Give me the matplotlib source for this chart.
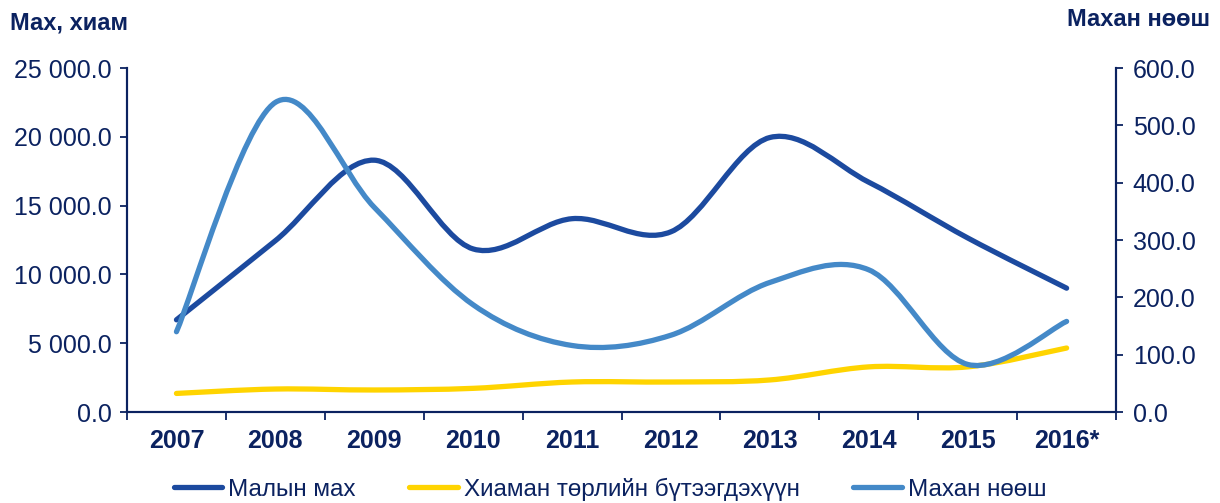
import numpy as np
import matplotlib
matplotlib.use("Agg")
import matplotlib.pyplot as plt
from matplotlib.path import Path
from matplotlib.patches import PathPatch
from matplotlib.lines import Line2D
from matplotlib.ticker import FuncFormatter

# Données
years = ["2007", "2008", "2009", "2010", "2011", "2012", "2013", "2014", "2015", "2016*"]
malyn_makh = [6700, 12450, 18300, 11850, 14050, 13100, 19950, 16700, 12650, 9000]
khiam = [1350, 1670, 1600, 1720, 2180, 2180, 2330, 3280, 3280, 4650]
makhan_noosh = [140, 540, 357, 187, 116, 134, 226, 248, 83, 158]

NAVY = "#0b2260"
C_DARK = "#1c4a9f"
C_YELLOW = "#ffd400"
C_LIGHT = "#4489c8"

plt.rcParams['font.family'] = ['Liberation Sans', 'DejaVu Sans']


def smooth_path(xs, ys):
    """Courbe lissée type Excel (Bezier passant par les points)"""
    pts = np.column_stack([xs, ys]).astype(float)
    n = len(pts)
    verts = [pts[0]]
    codes = [Path.MOVETO]
    for i in range(n - 1):
        p0 = pts[i - 1] if i > 0 else pts[i]
        p1 = pts[i]
        p2 = pts[i + 1]
        p3 = pts[i + 2] if i + 2 < n else pts[i + 1]
        c1 = p1 + (p2 - p0) / 6.0
        c2 = p2 - (p3 - p1) / 6.0
        verts += [c1, c2, p2]
        codes += [Path.CURVE4] * 3
    return Path(verts, codes)


fig = plt.figure(figsize=(12.2, 5.03), dpi=100)
ax = fig.add_axes([0.1041, 0.1809, 0.8107, 0.6839])
ax2 = ax.twinx()

x = np.arange(len(years))
lw = 3.8
for axis, vals, col, z in [(ax, malyn_makh, C_DARK, 3), (ax, khiam, C_YELLOW, 2)]:
    axis.add_patch(PathPatch(smooth_path(x, vals), facecolor='none', edgecolor=col,
                             lw=lw, capstyle='round', joinstyle='round', zorder=z))
ax2.add_patch(PathPatch(smooth_path(x, makhan_noosh), facecolor='none', edgecolor=C_LIGHT,
                        lw=lw, capstyle='round', joinstyle='round', zorder=3))

ax.set_xlim(-0.5, len(years) - 0.5)
ax.set_ylim(0, 25000)
ax2.set_ylim(0, 600)
ax.set_yticks(np.arange(0, 25001, 5000))
ax2.set_yticks(np.arange(0, 601, 100))
ax.yaxis.set_major_formatter(FuncFormatter(lambda v, p: f"{v:,.1f}".replace(",", " ")))
ax2.yaxis.set_major_formatter(FuncFormatter(lambda v, p: f"{v:.1f}"))

ax.set_xticks(np.arange(-0.5, len(years), 1.0))
ax.set_xticklabels([])
ax.set_xticks(x, minor=True)
ax.set_xticklabels(years, minor=True, fontsize=18, fontweight='bold', color=NAVY)
ax.tick_params(axis='x', which='minor', length=0, pad=12)
ax.tick_params(axis='x', which='major', length=5.5, width=1.3, color=NAVY, direction='out')

ax.tick_params(axis='y', length=5, width=1.3, color=NAVY, labelcolor=NAVY, labelsize=18, pad=6)
ax2.tick_params(axis='y', length=5, width=1.3, color=NAVY, labelcolor=NAVY, labelsize=18, pad=7)

for a in (ax, ax2):
    a.spines['top'].set_visible(False)
    for s in ('left', 'right', 'bottom'):
        a.spines[s].set_color(NAVY)
        a.spines[s].set_linewidth(1.5)

fig.text(10 / 1220, 1 - 23 / 503, "Мах, хиам", fontsize=17, fontweight='bold',
         color=NAVY, ha='left', va='center')
fig.text(1210 / 1220, 1 - 20 / 503, "Махан нөөш", fontsize=17, fontweight='bold',
         color=NAVY, ha='right', va='center')

handles = [Line2D([], [], color=C_DARK, lw=lw, solid_capstyle='round'),
           Line2D([], [], color=C_YELLOW, lw=lw, solid_capstyle='round'),
           Line2D([], [], color=C_LIGHT, lw=lw, solid_capstyle='round')]
labels = ["Малын мах", "Хиаман төрлийн бүтээгдэхүүн", "Махан нөөш"]
fig.legend(handles, labels, loc='center', bbox_to_anchor=(0.5, 1 - 489 / 503), ncol=3,
           frameon=False, fontsize=17.5, handlelength=2.0, handletextpad=0.25,
           columnspacing=2.2, labelcolor=NAVY, borderpad=0.1)

fig.savefig("out.png", dpi=100)
